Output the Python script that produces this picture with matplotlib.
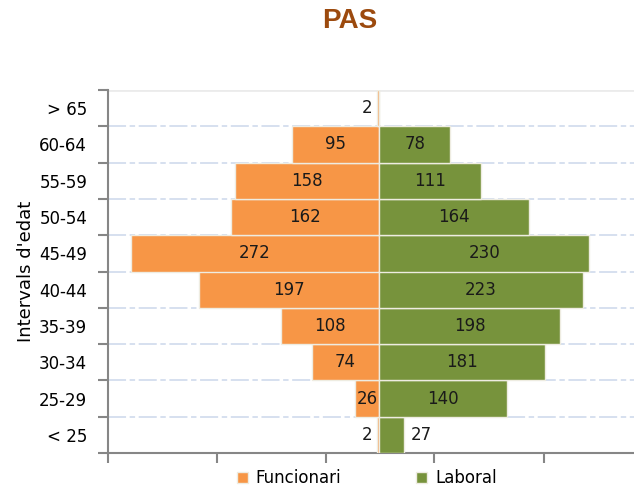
import matplotlib
matplotlib.use("Agg")
import matplotlib.pyplot as plt
import numpy as np

categories = ["< 25", "25-29", "30-34", "35-39", "40-44", "45-49", "50-54", "55-59", "60-64", "> 65"]
funcionari = [2, 26, 74, 108, 197, 272, 162, 158, 95, 2]
laboral = [27, 140, 181, 198, 223, 230, 164, 111, 78, 0]
series_names = ["Funcionari", "Laboral"]

ORANGE = "#F79646"
GREEN = "#77933C"
EDGE = "#EEECE1"
GRAY = "#868686"

plt.rcParams['font.family'] = ['DejaVu Sans']

fig = plt.figure(figsize=(6.34, 4.88), dpi=100)
ax = fig.add_axes([108/634, 35/488, (634-108)/634, (453-90)/488])

y = np.arange(len(categories))
f = -np.array(funcionari, dtype=float)
l = np.array(laboral, dtype=float)

ax.barh(y, f, height=1.0, color=ORANGE, edgecolor=EDGE, linewidth=1, zorder=3, label=series_names[0])
ax.barh(y, l, height=1.0, color=GREEN, edgecolor=EDGE, linewidth=1, zorder=3, label=series_names[1])

ax.set_xlim(-297, 279)
ax.set_ylim(-0.5, len(categories) - 0.5)

fs = 12
for yi, v in zip(y, funcionari):
    if v >= 20:
        ax.text(-v / 2, yi, str(v), ha="center", va="center", fontsize=fs, color="#1a1a1a", zorder=4)
    else:
        ax.text(-v - 5, yi, str(v), ha="right", va="center", fontsize=fs, color="#1a1a1a", zorder=4)
for yi, v in zip(y, laboral):
    if v == 0:
        continue
    if v >= 40:
        ax.text(v / 2, yi, str(v), ha="center", va="center", fontsize=fs, color="#1a1a1a", zorder=4)
    else:
        ax.text(v + 7, yi, str(v), ha="left", va="center", fontsize=fs, color="#1a1a1a", zorder=4)

# gridlines at category boundaries
bounds = np.arange(-0.5, len(categories) + 0.5, 1.0)
for b in bounds[1:-1]:
    ax.axhline(b, color="#D3DDEE", linewidth=1.3, linestyle=(0, (10, 2, 3, 2)), zorder=1)
ax.axhline(bounds[-1], color="#EBEBEB", linewidth=2, zorder=1)

ax.set_yticks(bounds)
ax.set_yticklabels([])
ax.set_yticks(y, minor=True)
ax.set_yticklabels(categories, minor=True, fontsize=fs)
ax.tick_params(axis="y", which="major", length=7, width=1.5, color=GRAY, direction="out")
ax.tick_params(axis="y", which="minor", length=0, pad=15)

ax.set_xticks([-297, -178, -58, 60, 180])
ax.set_xticklabels([])
ax.tick_params(axis="x", which="major", length=7, width=1.5, color=GRAY, direction="out")

for s in ["top", "right"]:
    ax.spines[s].set_visible(False)
for s in ["left", "bottom"]:
    ax.spines[s].set_color(GRAY)
    ax.spines[s].set_linewidth(1.5)

ax.set_ylabel("Intervals d'edat", fontsize=13)
ax.yaxis.set_label_coords(-(108 - 35) / 526, 0.5)

fig.text(350/634, 1 - 21/488, "PAS", ha="center", va="center", fontsize=20,
         fontweight="bold", color="#9C4A0E", family="Liberation Sans")

leg = fig.legend(loc="center", bbox_to_anchor=(367/634, 1 - 478/488), ncol=2, frameon=False,
                 fontsize=fs, handlelength=0.65, handleheight=0.65, columnspacing=4.5, handletextpad=0.5)

fig.savefig("out.png", dpi=100)
